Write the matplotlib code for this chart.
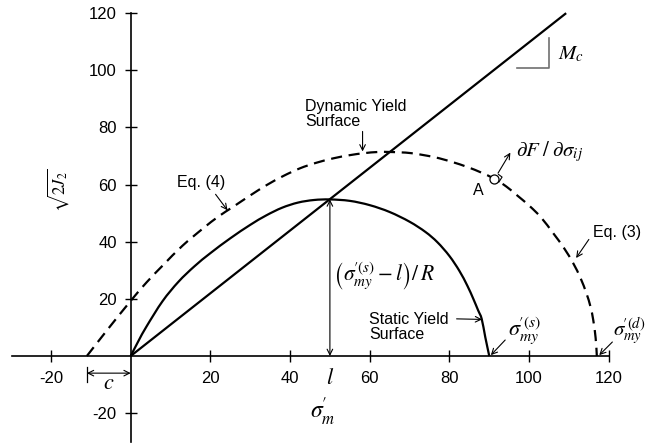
import numpy as np
import matplotlib
matplotlib.use("Agg")
import matplotlib.pyplot as plt
from matplotlib.path import Path
from matplotlib.patches import PathPatch

plt.rcParams['font.family'] = ['Liberation Sans', 'DejaVu Sans']
plt.rcParams['mathtext.fontset'] = 'stix'

# ---- data ----
static_x = [0, 2, 4, 8, 12, 16, 20, 25, 30, 34, 38, 42, 46, 50,
            55, 60, 65, 70, 74, 77, 80, 82.5, 84.5, 86, 87.2, 88.1, 89.0, 90.0]
static_y = [0, 5.4, 10.4, 19.2, 26.0, 31.4, 36.0, 41.2, 45.9, 49.2, 51.9, 53.7, 54.6, 54.8,
            54.3, 52.8, 50.4, 47.0, 43.4, 39.8, 35.0, 29.8, 24.6, 20.0, 16.0, 13.0, 6.6, 0.0]

dyn_x = [-11.0, -5.5, 0.0, 4.0, 8.2, 13.0, 18.2, 22.0, 25.8, 30.0, 34.1, 38.3, 42.5, 46.5, 50.9,
         55.0, 58.6, 62.0, 65.3, 70.4, 76.2, 80.5, 84.6, 88.0, 91.3, 94.3, 97.1, 100.2, 103.0,
         106.1, 108.8, 111.1, 112.9, 114.4, 115.4, 116.1, 116.7, 117.0]
dyn_y = [0.0, 9.8, 19.3, 25.8, 31.9, 38.6, 44.7, 48.8, 52.3, 56.2, 59.8, 63.0, 65.7, 67.6, 69.2,
         70.3, 71.0, 71.4, 71.4, 71.0, 69.6, 68.0, 66.1, 64.2, 62.0, 59.3, 56.1, 52.4, 48.5,
         42.9, 37.7, 32.4, 27.3, 21.9, 17.3, 12.6, 6.3, 0.0]

csl_x = [0.0, 109.3]
csl_y = [0.0, 120.0]

x_ticks = [-20, 20, 40, 60, 80, 100, 120]
y_ticks = [-20, 20, 40, 60, 80, 100, 120]

l_val = 50.0
peak_y = 54.8
c_val = 11.0
A_pt = (91.3, 62.0)

# ---- figure ----
W, H = 647, 446
fig = plt.figure(figsize=(W / 100, H / 100), dpi=100)
ax = fig.add_axes([0, 0, 1, 1])
x0px, sx = 130.7, 3.984
y0px, sy = 356.0, 2.857
ax.set_xlim(-x0px / sx, (W - x0px) / sx)
ax.set_ylim(-(H - y0px) / sy, y0px / sy)

for s in ['top', 'right']:
    ax.spines[s].set_visible(False)
ax.spines['left'].set_position(('data', 0))
ax.spines['bottom'].set_position(('data', 0))
ax.spines['left'].set_bounds(-30.1, 120)
ax.spines['bottom'].set_bounds(-29.8, 120)
for s in ['left', 'bottom']:
    ax.spines[s].set_linewidth(1.2)
ax.set_xticks(x_ticks)
ax.set_yticks(y_ticks)
ax.set_xticklabels([str(v) for v in x_ticks])
ax.set_yticklabels([str(v) for v in y_ticks])
ax.tick_params(axis='both', direction='inout', length=8, width=1.0, labelsize=12)
ax.tick_params(axis='x', pad=6.5)
ax.tick_params(axis='y', pad=6.0)
ax.patch.set_visible(False)


def smooth_path(xs, ys):
    """Smooth Bezier path passing through the given points (drawn by matplotlib)."""
    p = np.column_stack([np.asarray(xs) * sx, np.asarray(ys) * sy])
    n = len(p)
    verts = [p[0]]
    codes = [Path.MOVETO]
    for i in range(n - 1):
        p0 = p[i - 1] if i > 0 else p[i]
        p1, p2 = p[i], p[i + 1]
        p3 = p[i + 2] if i + 2 < n else p[i + 1]
        c1 = p1 + (p2 - p0) / 6.0
        c2 = p2 - (p3 - p1) / 6.0
        verts += [c1, c2, p2]
        codes += [Path.CURVE4] * 3
    v = np.array(verts) / np.array([sx, sy])
    return Path(v, codes)


lw = 1.6
ax.plot(csl_x, csl_y, color='black', lw=lw, solid_capstyle='butt')
ax.add_patch(PathPatch(smooth_path(static_x, static_y), fill=False, edgecolor='black', lw=lw))
ax.add_patch(PathPatch(smooth_path(dyn_x, dyn_y), fill=False, edgecolor='black', lw=lw,
                       linestyle=(0, (5, 3))))

arr = dict(arrowstyle='->', color='black', lw=0.8, shrinkA=0, shrinkB=0,
           mutation_scale=10)
arr2 = dict(arrowstyle='<->', color='black', lw=0.8, shrinkA=0, shrinkB=0,
            mutation_scale=10)

fs = 11.5
# l double arrow
ax.annotate('', xy=(l_val, 0), xytext=(l_val, peak_y), arrowprops=arr2)
ax.text(l_val, -8.0, r'$l$', fontsize=16, ha='center', va='center')
ax.text(48.3, -19.5, r"$\sigma^{\!\prime}_{m}$", fontsize=17, ha='center', va='center')

# c
ax.annotate('', xy=(-c_val, -6.0), xytext=(0, -6.0), arrowprops=arr2)
ax.plot([-c_val, -c_val], [-3.8, -9.0], color='black', lw=0.9)
ax.text(-5.5, -9.8, r'$c$', fontsize=16, ha='center', va='center')

# y label
ax.text(-18.2, 58.0, r'$\sqrt{2J_2}$', fontsize=12, rotation=90, ha='center', va='center')

# annotation for (sigma - l)/R
ax.text(50.9, 28.0, r"$\left(\sigma^{\!\prime(s)}_{my}-l\right)/\,R$", fontsize=15.5,
        ha='left', va='center')

# Dynamic yield surface
ax.text(43.8, 89.8, 'Dynamic Yield\nSurface', fontsize=fs, ha='left', va='top', linespacing=1.0)
ax.annotate('', xy=(58.2, 71.6), xytext=(58.2, 78.6), arrowprops=arr)

# Eq. (4)
ax.text(11.6, 60.9, 'Eq. (4)', fontsize=fs, ha='left', va='center')
ax.annotate('', xy=(24.3, 51.0), xytext=(21.3, 56.6), arrowprops=arr)

# Eq. (3)
ax.text(116.0, 43.4, 'Eq. (3)', fontsize=fs, ha='left', va='center')
ax.annotate('', xy=(111.8, 34.3), xytext=(115.0, 40.8), arrowprops=arr)

# Static yield surface
ax.text(59.8, 10.0, 'Static Yield\nSurface', fontsize=fs, ha='left', va='center', linespacing=1.0)
ax.annotate('', xy=(88.2, 12.8), xytext=(81.8, 13.0), arrowprops=arr)

# sigma_my^(s)
ax.text(94.6, 9.0, r"$\sigma^{\!\prime(s)}_{my}$", fontsize=16, ha='left', va='center')
ax.annotate('', xy=(90.4, 0.3), xytext=(94.0, 5.6), arrowprops=arr)

# sigma_my^(d)
ax.text(121.0, 8.6, r"$\sigma^{\!\prime(d)}_{my}$", fontsize=15, ha='left', va='center')
ax.annotate('', xy=(117.6, 0.3), xytext=(120.9, 4.9), arrowprops=arr)

# M_c slope indicator
ax.plot([97.0, 104.9, 104.9], [100.8, 100.8, 111.4], color='#707070', lw=1.2)
ax.text(107.2, 105.8, r'$M_c$', fontsize=15, ha='left', va='center')

# point A with normal
ax.plot([A_pt[0]], [A_pt[1]], marker='o', markersize=6.5, markerfacecolor='white',
        markeredgecolor='black', markeredgewidth=0.9, zorder=5)
ax.text(87.2, 57.8, 'A', fontsize=fs, ha='center', va='center')
ax.annotate('', xy=(95.3, 71.2), xytext=(92.2, 64.0), arrowprops=arr)
t = np.array([0.80, -0.59]); nrm = np.array([0.54, 0.84])
def px2d(v, k):
    return np.array([v[0] * k / sx, v[1] * k / sy])
p0 = np.array(A_pt) + px2d(t, 5.5)
p1 = p0 + px2d(nrm, 6.0)
p2 = np.array(A_pt) + px2d(nrm, 6.0) + px2d(t, 1.0)
ax.plot([p0[0], p1[0], p2[0]], [p0[1], p1[1], p2[1]], color='black', lw=0.8)
ax.text(96.8, 71.4, r'$\partial F\;/\;\partial\sigma_{ij}$', fontsize=15, ha='left', va='center')

fig.savefig('out.png', dpi=100)
